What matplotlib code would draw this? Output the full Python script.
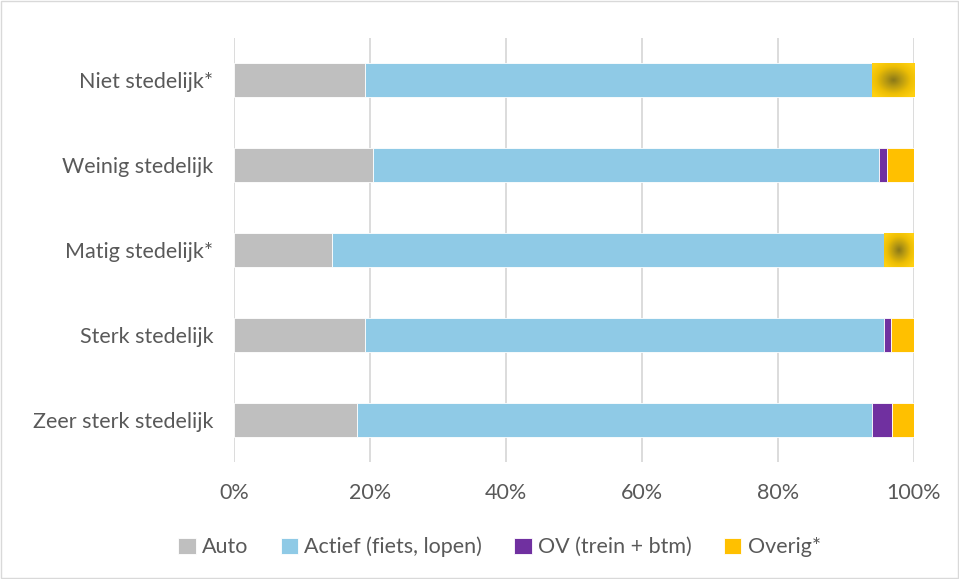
import matplotlib
matplotlib.use('Agg')
import matplotlib.pyplot as plt
import numpy as np
from matplotlib.colors import LinearSegmentedColormap
from matplotlib.patches import Rectangle

categories = ['Niet stedelijk*', 'Weinig stedelijk', 'Matig stedelijk*',
              'Sterk stedelijk', 'Zeer sterk stedelijk']
auto = [19.3, 20.4, 14.4, 19.3, 18.1]
actief = [74.5, 74.5, 81.2, 76.3, 75.7]
ov = [0.0, 1.1, 0.0, 1.0, 3.0]
overig = [6.2, 4.0, 4.4, 3.4, 3.2]
# categories marked with * get a shaded "Overig" segment
shaded = [True, False, True, False, False]

series = [('Auto', auto, '#BFBFBF'),
          ('Actief (fiets, lopen)', actief, '#8FCAE6'),
          ('OV (trein + btm)', ov, '#7030A0'),
          ('Overig*', overig, '#FFC000')]

TXT = '#595959'
FS = 15.5
plt.rcParams['font.family'] = ['Lato', 'DejaVu Sans']

fig = plt.figure(figsize=(9.59, 5.79), dpi=100)
ax = fig.add_axes([234 / 959, 1 - 462 / 579, 680 / 959, 424 / 579])

y = np.arange(len(categories))
left = np.zeros(len(categories))
bar_groups = []
for name, vals, col in series:
    bars = ax.barh(y, vals, left=left, height=0.4, color=col, label=name,
                   edgecolor='white', linewidth=0.6, zorder=3)
    bar_groups.append(bars)
    left += np.array(vals)

# radial shading on the Overig segments of starred categories
cmap = LinearSegmentedColormap.from_list(
    'gold', [(0, '#8A7818'), (0.3, '#B89A12'), (0.65, '#EDBE04'), (1, '#FFD010')])
gx, gy = np.meshgrid(np.linspace(-1, 1, 80), np.linspace(-1, 1, 80))
r = np.clip(np.sqrt(gx ** 2 + gy ** 2) / 1.25, 0, 1)
for i, bar in enumerate(bar_groups[3]):
    if not shaded[i]:
        continue
    x0, y0 = bar.get_x(), bar.get_y()
    w, h = bar.get_width(), bar.get_height()
    im = ax.imshow(r, cmap=cmap, extent=[x0, x0 + w, y0, y0 + h],
                   aspect='auto', zorder=4, vmin=0, vmax=1)
    im.set_clip_path(bar)

ax.set_xlim(0, 100)
ax.set_ylim(4.5, -0.5)
ax.set_xticks(range(0, 101, 20))
ax.set_xticklabels([f'{v}%' for v in range(0, 101, 20)])
ax.set_yticks(y)
ax.set_yticklabels(categories)
ax.grid(axis='x', color='#D9D9D9', lw=1.3, zorder=0)
for s in ax.spines.values():
    s.set_visible(False)
ax.tick_params(length=0, labelsize=FS, colors=TXT)
ax.tick_params(axis='x', pad=15)
ax.tick_params(axis='y', pad=15)

leg = fig.legend(loc='center', bbox_to_anchor=(0.521, 1 - 547 / 579), ncol=4,
                 frameon=False, fontsize=FS, handlelength=0.8, handleheight=0.8,
                 handletextpad=0.3, columnspacing=1.5)
for t in leg.get_texts():
    t.set_color(TXT)

fig.patches.append(Rectangle((0.001, 0.002), 0.998, 0.996, transform=fig.transFigure,
                             fill=False, edgecolor='#D9D9D9', lw=1))

fig.savefig('out.png', dpi=100)
